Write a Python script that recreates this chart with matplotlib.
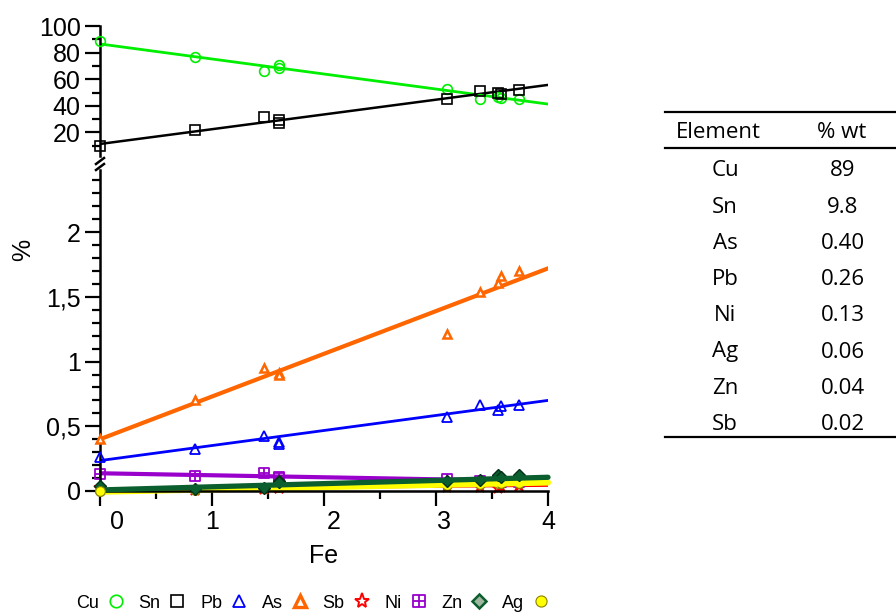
import numpy as np
import matplotlib
matplotlib.use("Agg")
from matplotlib import pyplot as plt
from matplotlib.lines import Line2D
from matplotlib.path import Path
import matplotlib.transforms as mtransforms

plt.rcParams['font.family'] = ['Liberation Sans', 'DejaVu Sans']

# Fe content of each sample
fe = [0, 0.85, 1.46, 1.6, 1.6, 3.1, 3.39, 3.55, 3.58, 3.74]

# element contents (%), one value per sample
cu = [89, 76.5, 66.4, 70.7, 68.2, 52.4, 45.1, 46.4, 46.0, 44.9]
sn = [9.8, 21.8, 31.4, 29.3, 27.3, 45.1, 51.4, 49.8, 49.0, 51.9]
pb = [0.26, 0.325, 0.428, 0.381, 0.365, 0.57, 0.665, 0.627, 0.66, 0.665]
as_ = [0.40, 0.70, 0.95, 0.91, 0.90, 1.215, 1.54, 1.61, 1.66, 1.70]
sb = [0.02, 0.01, 0.015, 0.02, 0.02, 0.03, 0.033, 0.026, 0.03, 0.039]
ni = [0.13, 0.116, 0.137, 0.106, 0.10, 0.093, 0.08, 0.08, 0.07, 0.07]
zn = [0.04, 0.015, 0.025, 0.08, 0.07, 0.075, 0.085, 0.125, 0.11, 0.122]
ag = [0.0, 0.01, 0.02, 0.03, 0.03, 0.05, 0.055, 0.06, 0.06, 0.065]

# linear fits: value at Fe = 0 and at Fe = 4
fit_x = [0, 4]
cu_fit = [86.5, 41.3]
sn_fit = [11.3, 55.7]
pb_fit = [0.235, 0.70]
as_fit = [0.40, 1.72]
sb_fit = [0.01, 0.04]
ni_fit = [0.137, 0.075]
zn_fit = [0.008, 0.106]
ag_fit = [-0.005, 0.066]

# composition table
tab_elem = ['Cu', 'Sn', 'As', 'Pb', 'Ni', 'Ag', 'Zn', 'Sb']
tab_wt = ['89', '9.8', '0.40', '0.26', '0.13', '0.06', '0.04', '0.02']

W, H = 896, 614
fig = plt.figure(figsize=(W / 100, H / 100), dpi=100)


def px(x0, y0, x1, y1):
	return [x0 / W, 1 - y1 / H, (x1 - x0) / W, (y1 - y0) / H]


ax_top = fig.add_axes(px(100, 26, 548, 159))
ax = fig.add_axes(px(100, 170, 548, 491))

c_cu = '#00ee00'
c_sn = 'black'
c_pb = '#0000ff'
c_as = '#ff6600'
c_sb = '#ff0000'
c_ni = '#9900cc'
c_zn = '#0b5e2e'
c_ag = '#ffff00'

# square with a cross, for Ni
ni_marker = Path([(-1, -1), (1, -1), (1, 1), (-1, 1), (-1, -1), (0, -1), (0, 1), (-1, 0), (1, 0)],
                 [Path.MOVETO, Path.LINETO, Path.LINETO, Path.LINETO, Path.CLOSEPOLY,
                  Path.MOVETO, Path.LINETO, Path.MOVETO, Path.LINETO])

st = dict(cu=dict(marker='o', ms=7, mfc='none', mec=c_cu, mew=1.2),
          sn=dict(marker='s', ms=7, mfc='none', mec=c_sn, mew=1.2),
          pb=dict(marker='^', ms=7, mfc='none', mec=c_pb, mew=1.3),
          as_=dict(marker='^', ms=6, mfc='white', mec=c_as, mew=1.8),
          sb=dict(marker='*', ms=9, mfc='white', mec=c_sb, mew=1.3),
          ni=dict(marker=ni_marker, ms=7, mfc='none', mec=c_ni, mew=1.3),
          zn=dict(marker='D', ms=6, mfc='#9fb79f', mec=c_zn, mew=1.8),
          ag=dict(marker='o', ms=7, mfc=c_ag, mec='#8a8000', mew=0.8))

# top panel: Cu and Sn
ax_top.plot(fe, cu, ls='none', clip_on=False, zorder=3, **st['cu'])
ax_top.plot(fit_x, cu_fit, color=c_cu, lw=2, zorder=2)
ax_top.plot(fe, sn, ls='none', clip_on=False, zorder=3, **st['sn'])
ax_top.plot(fit_x, sn_fit, color=c_sn, lw=1.8, zorder=2)

# bottom panel: minor elements
ax.plot(fe, as_, ls='none', clip_on=False, zorder=3, **st['as_'])
ax.plot(fit_x, as_fit, color=c_as, lw=3, zorder=2)
ax.plot(fe, pb, ls='none', clip_on=False, zorder=3, **st['pb'])
ax.plot(fit_x, pb_fit, color=c_pb, lw=2, zorder=2)
ax.plot(fe, sb, ls='none', clip_on=False, zorder=2.1, **st['sb'])
ax.plot(fit_x, sb_fit, color=c_sb, lw=1.5, zorder=2)
ax.plot(fe, ni, ls='none', clip_on=False, zorder=2.3, **st['ni'])
ax.plot(fit_x, ni_fit, color=c_ni, lw=3, zorder=2.2)
ax.plot(fe, ag, ls='none', clip_on=False, zorder=2.4, **st['ag'])
ax.plot(fit_x, ag_fit, color=c_ag, lw=4.5, zorder=2.5, solid_capstyle='round', clip_on=False)
ax.plot(fe, zn, ls='none', clip_on=False, zorder=2.55,
        marker='D', ms=6, mfc=c_zn, mec='#05301a', mew=1.0)
ax.plot(fit_x, zn_fit, color=c_zn, lw=3.8, zorder=2.6, solid_capstyle='round', clip_on=False)
ax.plot(fe[:1], ag[:1], ls='none', clip_on=False, zorder=2.8, **st['ag'])

fs = 18
for a in (ax_top, ax):
	a.set_xlim(0, 4)
	a.spines['top'].set_visible(False)
	a.spines['right'].set_visible(False)
	a.spines['left'].set_linewidth(1.8)
	a.spines['bottom'].set_linewidth(1.8)
	a.tick_params(which='major', direction='out', length=11, width=1.6, labelsize=fs, pad=3)
	a.tick_params(which='minor', direction='out', length=6, width=1.6)

ax_top.set_ylim(0, 100)
ax_top.spines['bottom'].set_visible(False)
ax_top.spines['left'].set_bounds(2, 100)
ax_top.set_xticks([])
ax_top.set_yticks([20, 40, 60, 80, 100])
ax_top.set_yticks([10, 30, 50, 70, 90], minor=True)
ax_top.patch.set_alpha(0)

ax.set_ylim(0, 2.48)
ax.set_yticks([0, 0.5, 1, 1.5, 2])
ax.set_yticklabels(['0', '0,5', '1', '1,5', '2'])
ax.set_yticks(np.arange(0.1, 2.45, 0.1), minor=True)
ax.set_xticks([0, 1, 2, 3, 4])
ax.set_xticks([0.5, 1.5, 2.5, 3.5], minor=True)
ax.set_xticklabels(['0', '1', '2', '3', '4'])
for lab, dx in zip(ax.get_xticklabels(), [17, 0, 10, 8, 0]):
	lab.set_transform(lab.get_transform() + mtransforms.ScaledTranslation(dx / 100, 0, fig.dpi_scale_trans))
ax.set_xlabel('Fe', fontsize=fs, labelpad=7)
ax.set_ylabel('%', fontsize=fs)
ax.yaxis.set_label_coords(-0.145, 0.75)
ax.patch.set_alpha(0)

# axis break marks
for yb in (161, 167):
	fig.add_artist(Line2D([96 / W, 104 / W], [1 - (yb + 3) / H, 1 - (yb - 3) / H], color='black', lw=1.8))

# legend under the plot
handles = [Line2D([], [], ls='none', **dict(st[k], ms=9)) for k in ['cu', 'sn', 'pb', 'as_', 'sb', 'ni', 'zn', 'ag']]
handles[3] = Line2D([], [], ls='none', marker='^', ms=8, mfc='white', mec=c_as, mew=2.4)
handles[4] = Line2D([], [], ls='none', marker='*', ms=11, mfc='white', mec=c_sb, mew=1.4)
handles[6] = Line2D([], [], ls='none', marker='D', ms=7, mfc='#9fb79f', mec=c_zn, mew=1.8)
handles[7] = Line2D([], [], ls='none', marker='o', ms=8, mfc=c_ag, mec='#8a8000', mew=0.8)
labels = ['Cu', 'Sn', 'Pb', 'As', 'Sb', 'Ni', 'Zn', 'Ag']
fig.legend(handles, labels, loc='center', bbox_to_anchor=(313 / W, 1 - 603 / H), ncol=8,
           markerfirst=False, frameon=False, fontsize=13, handlelength=1.0,
           handletextpad=0.45, columnspacing=0.75, borderpad=0)

# composition table
tf = ['Open Sans', 'DejaVu Sans']
tfs = 16
fig.add_artist(Line2D([665 / W, 1], [1 - 112 / H] * 2, color='black', lw=1.6))
fig.add_artist(Line2D([665 / W, 1], [1 - 148 / H] * 2, color='black', lw=1.6))
fig.add_artist(Line2D([665 / W, 1], [1 - 437 / H] * 2, color='black', lw=1.6))
fig.text(718 / W, 1 - 133 / H, 'Element', ha='center', va='center', fontsize=tfs, family=tf)
fig.text(842 / W, 1 - 133 / H, '% wt', ha='center', va='center', fontsize=tfs, family=tf)
for i, (e, v) in enumerate(zip(tab_elem, tab_wt)):
	y = 171 + i * 36.2
	fig.text(725 / W, 1 - y / H, e, ha='center', va='center', fontsize=tfs, family=tf)
	fig.text(843 / W, 1 - y / H, v, ha='center', va='center', fontsize=tfs, family=tf)

fig.savefig('out.png', dpi=100)
